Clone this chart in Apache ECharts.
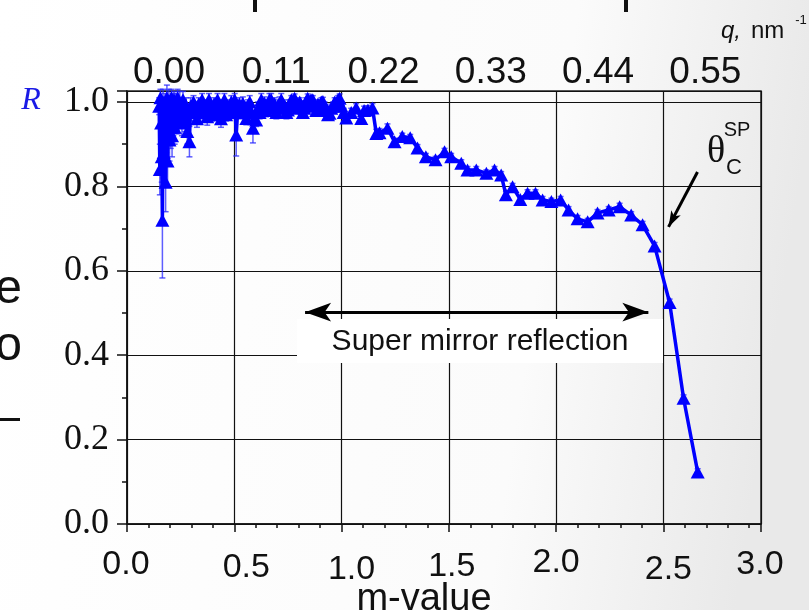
<!DOCTYPE html>
<html>
<head>
<meta charset="utf-8">
<script src="https://cdn.jsdelivr.net/npm/echarts@6/dist/echarts.min.js"></script>
<style>
  html, body { margin: 0; padding: 0; }
  #chart { width: 809px; height: 610px; }
</style>
</head>
<body>
<div id="chart"></div>
<script>
// m-value of each measured point
var mValues = [
    0.150, 0.153, 0.156, 0.159, 0.162, 0.165, 0.168, 0.171, 0.174, 0.177,
    0.180, 0.183, 0.186, 0.189, 0.192, 0.195, 0.198, 0.201, 0.204, 0.207,
    0.210, 0.213, 0.216, 0.219, 0.222,
    0.226, 0.231, 0.236, 0.241, 0.246, 0.251, 0.256, 0.261, 0.266, 0.271,
    0.276, 0.281, 0.286, 0.291, 0.296,
    0.302, 0.310, 0.318, 0.326, 0.334, 0.342, 0.350, 0.358, 0.366, 0.374,
    0.382, 0.390, 0.398, 0.406, 0.414, 0.422, 0.430, 0.438, 0.446, 0.454,
    0.462, 0.470, 0.478, 0.486, 0.494, 0.502,
    0.509, 0.516, 0.524, 0.532, 0.540, 0.548, 0.556, 0.564, 0.572, 0.580,
    0.587, 0.594, 0.602, 0.610, 0.618, 0.626, 0.634, 0.641, 0.648, 0.656,
    0.664, 0.672, 0.680, 0.688, 0.696, 0.704, 0.711, 0.719, 0.727, 0.735,
    0.743, 0.750,
    0.758, 0.766, 0.774, 0.781, 0.789, 0.797, 0.805, 0.812, 0.820, 0.827,
    0.835, 0.842, 0.850, 0.858, 0.866, 0.874, 0.882, 0.890, 0.898, 0.906,
    0.913, 0.921, 0.929, 0.937, 0.944, 0.952, 0.960, 0.968, 0.976, 0.984,
    0.991, 1.000, 1.010,
    1.022, 1.045, 1.068, 1.092, 1.105, 1.123, 1.144, 1.162, 1.177, 1.214,
    1.247, 1.283, 1.320, 1.354, 1.393, 1.438, 1.480, 1.511, 1.558, 1.587,
    1.628, 1.675, 1.713, 1.744, 1.766, 1.797, 1.833, 1.867, 1.904, 1.937,
    1.978, 2.021, 2.058, 2.100, 2.147, 2.193, 2.245, 2.296, 2.350, 2.403,
    2.459, 2.529, 2.594, 2.660
];
// reflectivity R
var rValues = [
    0.990, 0.840, 1.010, 0.950, 0.870, 0.720, 1.000, 0.880, 0.960, 0.990,
    0.810, 0.930, 1.010, 0.860, 0.970, 1.000, 0.910, 0.985, 0.940, 1.010,
    0.920, 0.990, 0.960, 1.005, 0.940,
    0.990, 0.965, 1.010, 0.955, 0.995, 0.975, 0.950, 1.005, 0.985, 0.960,
    0.990, 0.930, 0.975, 0.906, 0.990,
    0.975, 1.000, 0.985, 0.960, 0.995, 0.975, 1.005, 0.980, 0.990, 0.965,
    1.005, 0.985, 0.970, 0.995, 0.975, 1.005, 0.980, 0.960, 0.990, 1.005,
    0.970, 0.990, 0.975, 1.000, 0.985, 1.005,
    0.922, 0.980, 0.995, 0.975, 0.997, 0.985, 0.961, 0.990, 1.000, 0.975,
    0.938, 0.960, 0.957, 0.985, 0.975, 1.005, 0.990, 0.997, 0.980, 0.990,
    1.005, 1.005, 0.985, 0.995, 0.975, 0.990, 0.997, 1.005, 0.985, 0.990,
    0.975, 0.981,
    0.995, 1.005, 0.990, 1.009, 0.995, 0.985, 1.000, 0.993, 0.975, 0.985,
    1.000, 1.009, 0.995, 1.005, 1.005, 0.990, 0.980, 0.995, 0.985, 1.000,
    1.001, 0.990, 0.980, 0.970, 0.973, 0.985, 0.990, 1.000, 0.995, 1.005,
    1.009, 0.990, 0.975,
    0.962, 0.975, 0.986, 0.961, 0.980, 0.981, 0.986, 0.925, 0.927, 0.938,
    0.906, 0.918, 0.915, 0.891, 0.870, 0.863, 0.882, 0.870, 0.855, 0.839,
    0.839, 0.831, 0.839, 0.827, 0.780, 0.799, 0.769, 0.784, 0.784, 0.768,
    0.764, 0.768, 0.744, 0.723, 0.716, 0.737, 0.744, 0.752, 0.732, 0.709,
    0.659, 0.525, 0.298, 0.123
];
// error of R
var rErrors = [
    0.020, 0.060, 0.020, 0.050, 0.060, 0.137, 0.030, 0.060, 0.050, 0.030,
    0.070, 0.050, 0.030, 0.060, 0.040, 0.030, 0.050, 0.030, 0.050, 0.020,
    0.050, 0.030, 0.040, 0.020, 0.040,
    0.030, 0.040, 0.020, 0.030, 0.030, 0.030, 0.030, 0.020, 0.020, 0.030,
    0.020, 0.030, 0.020, 0.036, 0.020,
    0.020, 0.015, 0.015, 0.020, 0.015, 0.015, 0.015, 0.015, 0.015, 0.020,
    0.015, 0.015, 0.015, 0.015, 0.015, 0.015, 0.015, 0.020, 0.015, 0.015,
    0.015, 0.015, 0.015, 0.015, 0.015, 0.015,
    0.050, 0.015, 0.015, 0.015, 0.015, 0.015, 0.015, 0.015, 0.015, 0.015,
    0.035, 0.015, 0.015, 0.015, 0.015, 0.015, 0.015, 0.015, 0.015, 0.015,
    0.015, 0.015, 0.015, 0.015, 0.015, 0.015, 0.015, 0.015, 0.015, 0.015,
    0.015, 0.015,
    0.010, 0.010, 0.010, 0.010, 0.010, 0.010, 0.010, 0.010, 0.010, 0.010,
    0.010, 0.010, 0.010, 0.010, 0.010, 0.010, 0.010, 0.010, 0.010, 0.010,
    0.010, 0.010, 0.010, 0.010, 0.010, 0.010, 0.010, 0.010, 0.010, 0.010,
    0.010, 0.010, 0.010,
    0.010, 0.010, 0.010, 0.010, 0.010, 0.010, 0.010, 0.010, 0.010, 0.010,
    0.008, 0.008, 0.008, 0.008, 0.008, 0.008, 0.008, 0.008, 0.008, 0.008,
    0.008, 0.008, 0.008, 0.008, 0.008, 0.008, 0.008, 0.008, 0.008, 0.008,
    0.008, 0.008, 0.008, 0.008, 0.008, 0.008, 0.008, 0.008, 0.008, 0.008,
    0.008, 0.008, 0.008, 0.008
];
// tick labels
var mTickLabels = ['0.0', '0.5', '1.0', '1.5', '2.0', '2.5', '3.0'];
var qTickLabels = ['0.00', '0.11', '0.22', '0.33', '0.44', '0.55'];
var rTickLabels = ['0.0', '0.2', '0.4', '0.6', '0.8', '1.0'];

// 双箭头 与 θc 箭头 (数据坐标)
var mirrorArrow = [[0.83, 0.502], [2.43, 0.502]];
var thetaArrow = [[2.659, 0.834], [2.524, 0.704]];

var myChart = echarts.init(document.getElementById('chart'));

var points = mValues.map(function (m, i) { return [m, rValues[i]]; });
var bars = mValues.map(function (m, i) { return [m, rValues[i] - rErrors[i], rValues[i] + rErrors[i]]; });

// 每个底部刻度标签的细微偏移 [dx, dy]
var bottomShift = [[-1, 2], [12, 5], [10, 7], [3, 4], [0, 0], [5, 7], [-1, 2]];
var rich = {};
bottomShift.forEach(function (s, i) {
    rich['s' + i] = {
        fontSize: 34,
        fontFamily: 'Liberation Sans',
        color: '#111',
        padding: [s[1], s[0] < 0 ? -2 * s[0] : 0, 0, s[0] > 0 ? 2 * s[0] : 0]
    };
});

var option = {
    backgroundColor: {
        type: 'linear', x: 0, y: 0, x2: 1, y2: 0.2,
        colorStops: [
            { offset: 0, color: '#ffffff' },
            { offset: 0.7, color: '#fbfbfb' },
            { offset: 1, color: '#e9e9e9' }
        ]
    },
    animation: false,
    grid: {
        left: 127, right: 48, top: 91, bottom: 86,
        outerBoundsMode: 'none',
        show: true, borderColor: '#222', borderWidth: 1.5
    },
    xAxis: [{
        type: 'value', position: 'bottom',
        min: 0, max: 2.955, interval: 0.5,
        axisLine: { show: true, lineStyle: { color: '#111', width: 1.5 } },
        axisTick: { show: true, inside: false, length: 8, lineStyle: { color: '#111', width: 1.5 } },
        minorTick: { show: true, splitNumber: 5, length: 4, lineStyle: { color: '#111', width: 1.5 } },
        splitLine: { show: true, lineStyle: { color: '#111', width: 1.2 } },
        axisLabel: {
            margin: 22,
            showMaxLabel: true,
            formatter: function (v) {
                var i = Math.round(v / 0.5);
                return '{s' + i + '|' + mTickLabels[i] + '}';
            },
            rich: rich
        },
        name: 'm-value',
        nameLocation: 'middle',
        nameGap: 57,
        nameMoveOverlap: false,
        nameTextStyle: { fontSize: 38, fontFamily: 'Liberation Sans', color: '#111', padding: [0, 40, 0, 0] }
    }, {
        type: 'value', position: 'top',
        min: 0, max: 2.955, interval: 0.5,
        axisLine: { show: false },
        axisTick: { show: false },
        splitLine: { show: false },
        axisLabel: {
            margin: 0,
            showMaxLabel: false,
            fontSize: 37,
            fontFamily: 'Liberation Sans',
            color: '#111',
            padding: [0, 0, 0, 84],
            formatter: function (v) {
                return qTickLabels[Math.round(v / 0.5)];
            }
        }
    }],
    yAxis: {
        type: 'value',
        min: 0, max: 1.026, interval: 0.2,
        axisLine: { show: true, lineStyle: { color: '#111', width: 1.5 } },
        axisTick: { show: true, inside: false, length: 10, lineStyle: { color: '#111', width: 1.5 } },
        minorTick: { show: true, splitNumber: 2, length: 5, lineStyle: { color: '#111', width: 1.5 } },
        splitLine: { show: true, lineStyle: { color: '#111', width: 1.2 } },
        axisLabel: {
            margin: 18,
            showMaxLabel: false,
            fontSize: 36,
            fontFamily: 'Liberation Serif',
            color: '#111',
            formatter: function (v) {
                return rTickLabels[Math.round(v / 0.2)];
            }
        }
    },
    series: [{
        // 误差棒
        type: 'custom',
        z: 3,
        data: bars,
        renderItem: function (params, api) {
            var x = api.coord([api.value(0), api.value(1)])[0];
            var lo = api.coord([api.value(0), api.value(1)])[1];
            var hi = api.coord([api.value(0), api.value(2)])[1];
            var st = { stroke: 'rgba(40,40,255,0.75)', lineWidth: 1.5 };
            return {
                type: 'group',
                children: [
                    { type: 'line', shape: { x1: x, y1: lo, x2: x, y2: hi }, style: st },
                    { type: 'line', shape: { x1: x - 3, y1: lo, x2: x + 3, y2: lo }, style: st },
                    { type: 'line', shape: { x1: x - 3, y1: hi, x2: x + 3, y2: hi }, style: st }
                ]
            };
        }
    }, {
        name: 'R',
        type: 'line',
        z: 4,
        data: points,
        symbol: 'triangle',
        symbolSize: [14, 13],
        showAllSymbol: true,
        itemStyle: { color: '#0000ff' },
        lineStyle: { color: '#0000ff', width: 3.5 },
        markLine: {
            silent: true,
            label: { show: false },
            symbol: ['arrow', 'arrow'],
            symbolSize: [14, 26],
            data: [
                [{ coord: mirrorArrow[0] }, { coord: mirrorArrow[1] }],
                [{ coord: thetaArrow[0], symbol: 'none' },
                 { coord: thetaArrow[1], symbol: 'arrow', symbolSize: [8, 16] }]
            ],
            lineStyle: { color: '#000', type: 'solid', width: 3 }
        }
    }],
    graphic: [
        { type: 'rect', z: 1, shape: { x: 297, y: 319, width: 366, height: 44 }, style: { fill: '#ffffff' } },
        { type: 'text', z: 5, x: 480, y: 342, style: { text: 'Super mirror reflection', font: '30px "Liberation Sans"', fill: '#111', textAlign: 'center', textVerticalAlign: 'middle' } },
        { type: 'text', z: 5, x: 31, y: 101, style: { text: 'R', font: 'italic 32px "Liberation Serif"', fill: '#1a1ae6', textAlign: 'center', textVerticalAlign: 'middle' } },
        { type: 'text', z: 5, x: 716, y: 152, style: { text: 'θ', font: '38px "Liberation Serif"', fill: '#111', textAlign: 'center', textVerticalAlign: 'middle' } },
        { type: 'text', z: 5, x: 737, y: 130, style: { text: 'SP', font: '20px "Liberation Sans"', fill: '#111', textAlign: 'center', textVerticalAlign: 'middle' } },
        { type: 'text', z: 5, x: 734, y: 168, style: { text: 'C', font: '22px "Liberation Sans"', fill: '#111', textAlign: 'center', textVerticalAlign: 'middle' } },
        { type: 'text', z: 5, x: 741, y: 31, style: { text: 'q,', font: 'italic 24px "Liberation Sans"', fill: '#111', textAlign: 'right', textVerticalAlign: 'middle' } },
        { type: 'text', z: 5, x: 751, y: 31, style: { text: 'nm', font: '24px "Liberation Sans"', fill: '#111', textAlign: 'left', textVerticalAlign: 'middle' } },
        { type: 'text', z: 5, x: 801, y: 20, style: { text: '-1', font: '13px "Liberation Sans"', fill: '#111', textAlign: 'center', textVerticalAlign: 'middle' } },
        { type: 'text', z: 5, x: 22, y: 290, style: { text: 'e', font: '48px "Liberation Sans"', fill: '#111', textAlign: 'right', textVerticalAlign: 'middle' } },
        { type: 'text', z: 5, x: 22, y: 347, style: { text: 'o', font: '48px "Liberation Sans"', fill: '#111', textAlign: 'right', textVerticalAlign: 'middle' } },
        { type: 'rect', z: 5, shape: { x: 0, y: 418, width: 20, height: 3 }, style: { fill: '#111' } },
        { type: 'rect', z: 5, shape: { x: 253, y: 0, width: 4, height: 12 }, style: { fill: '#111' } },
        { type: 'rect', z: 5, shape: { x: 624, y: 0, width: 4, height: 12 }, style: { fill: '#111' } }
    ]
};

myChart.setOption(option);

window.onresize = function () {
    myChart.resize();
};
</script>
</body>
</html>
